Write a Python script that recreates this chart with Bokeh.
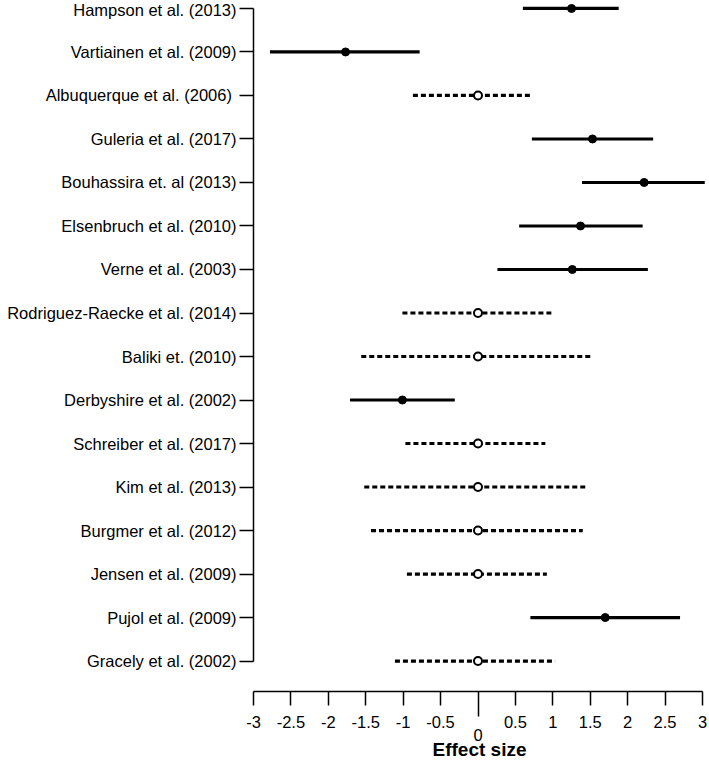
from bokeh.plotting import figure
from bokeh.models import FixedTicker, LinearAxis, Range1d
from bokeh.embed import file_html
from bokeh.resources import INLINE

studies = [
    "Hampson et al. (2013)",
    "Vartiainen et al. (2009)",
    "Albuquerque et al.  (2006)",
    "Guleria et al. (2017)",
    "Bouhassira et. al (2013)",
    "Elsenbruch et al. (2010)",
    "Verne et al. (2003)",
    "Rodriguez-Raecke et al. (2014)",
    "Baliki et. (2010)",
    "Derbyshire et al. (2002)",
    "Schreiber et al. (2017)",
    "Kim et al. (2013)",
    "Burgmer et al. (2012)",
    "Jensen et al. (2009)",
    "Pujol et al. (2009)",
    "Gracely et al. (2002)",
]
effect = [1.25, -1.77, 0.0, 1.53, 2.22, 1.37, 1.26, 0.0, 0.0, -1.01, 0.0, 0.0, 0.0, 0.0, 1.70, 0.0]
ci_low = [0.60, -2.78, -0.87, 0.72, 1.39, 0.55, 0.26, -1.01, -1.56, -1.71, -0.97, -1.52, -1.43, -0.95, 0.70, -1.11]
ci_high = [1.88, -0.78, 0.72, 2.34, 3.03, 2.20, 2.27, 0.98, 1.54, -0.31, 0.90, 1.46, 1.40, 0.92, 2.70, 1.03]
significant = [True, True, False, True, True, True, True, False, False, True, False, False, False, False, True, False]
x_ticks = [-3, -2.5, -2, -1.5, -1, -0.5, 0.5, 1, 1.5, 2, 2.5, 3]
x_label = "Effect size"

FONT = "Liberation Sans"
n = len(studies)
rows = list(range(n, 0, -1))

p = figure(width=707, height=762, output_backend="svg", toolbar_location=None,
           x_range=Range1d(-3, 3.04), y_range=Range1d(0.3, n + 0.183),
           min_border_left=253, min_border_right=2, min_border_top=0, min_border_bottom=0)
p.outline_line_color = None
p.xgrid.visible = False
p.ygrid.visible = False

def pick(arr, flag):
    return [a for a, s in zip(arr, significant) if s == flag]

# significant: solid line + filled dot
p.segment(x0=pick(ci_low, True), y0=pick(rows, True), x1=pick(ci_high, True), y1=pick(rows, True),
          line_color="black", line_width=3.2)
p.scatter(x=pick(effect, True), y=pick(rows, True), size=8, fill_color="black", line_color="black")
# non-significant: dashed line + open circle
p.segment(x0=pick(ci_low, False), y0=pick(rows, False), x1=pick(ci_high, False), y1=pick(rows, False),
          line_color="black", line_width=3.2, line_dash="5 3", line_cap="butt")
p.scatter(x=pick(effect, False), y=pick(rows, False), size=8, fill_color="white", line_color="black",
          line_width=2)

# y axis
ya = p.yaxis[0]
ya.ticker = FixedTicker(ticks=rows, minor_ticks=[])
ya.major_label_overrides = {r: s for r, s in zip(rows, studies)}
ya.bounds = (1, n)
ya.major_tick_out = 14
ya.major_tick_in = 0
ya.minor_tick_out = 0
ya.minor_tick_in = 0
ya.major_tick_line_width = 1.5
ya.axis_line_width = 1.5
ya.major_label_standoff = 3
ya.major_label_text_font = FONT
ya.major_label_text_font_size = "16.5px"
ya.major_label_text_color = "black"

# x axis
xa = p.xaxis[0]
xa.ticker = FixedTicker(ticks=x_ticks, minor_ticks=[0])
xa.major_label_overrides = {t: ("%g" % t) for t in x_ticks}
xa.bounds = (-3, 3)
xa.major_tick_out = 14
xa.major_tick_in = 0
xa.minor_tick_out = 25
xa.minor_tick_in = 0
xa.major_tick_line_width = 1.5
xa.minor_tick_line_width = 1.5
xa.axis_line_width = 1.5
xa.major_label_standoff = -1
xa.major_label_text_font = FONT
xa.major_label_text_font_size = "16.5px"
xa.major_label_text_color = "black"

xa2 = LinearAxis(ticker=FixedTicker(ticks=[0], minor_ticks=[]))
xa2.axis_line_color = None
xa2.major_tick_line_color = None
xa2.minor_tick_line_color = None
xa2.major_tick_out = 0
xa2.major_tick_in = 0
xa2.major_label_standoff = -2
xa2.major_label_text_font = FONT
xa2.major_label_text_font_size = "16.5px"
xa2.major_label_text_color = "black"
xa2.axis_label = x_label
xa2.axis_label_standoff = -5
xa2.axis_label_text_font = FONT
xa2.axis_label_text_font_size = "19px"
xa2.axis_label_text_font_style = "bold"
xa2.axis_label_text_color = "black"
p.add_layout(xa2, "below")

open("out.html", "w").write(file_html(p, INLINE))
